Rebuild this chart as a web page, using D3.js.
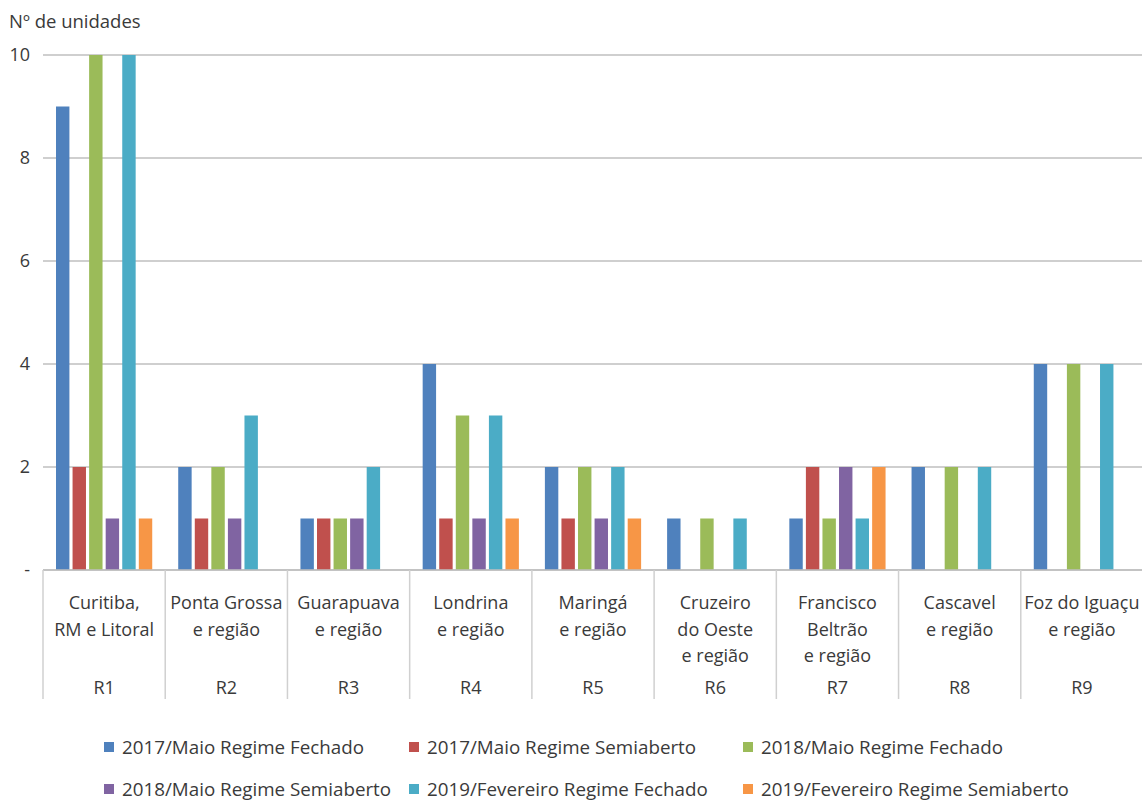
<!DOCTYPE html>
<html><head><meta charset="utf-8">
<script src="https://cdn.jsdelivr.net/npm/d3@7"></script>
<style>body{margin:0;background:#fff}svg{display:block}text{font-family:"Open Sans",sans-serif;fill:#3a3a3a}</style>
</head><body><svg id="c" width="1142" height="803"></svg>
<script>
const categories = [["Curitiba,","RM e Litoral"],["Ponta Grossa","e região"],["Guarapuava","e região"],["Londrina","e região"],["Maringá","e região"],["Cruzeiro","do Oeste","e região"],["Francisco","Beltrão","e região"],["Cascavel","e região"],["Foz do Iguaçu","e região"]];
const regions = ["R1","R2","R3","R4","R5","R6","R7","R8","R9"];
const series = ["2017/Maio Regime Fechado","2017/Maio Regime Semiaberto","2018/Maio Regime Fechado","2018/Maio Regime Semiaberto","2019/Fevereiro Regime Fechado","2019/Fevereiro Regime Semiaberto"];
const colors = ["#4f81bd","#c0504d","#9bbb59","#8064a2","#4bacc6","#f79646"];
const s2017F = [9,2,1,4,2,1,1,2,4];
const s2017S = [2,1,1,1,1,0,2,0,0];
const s2018F = [10,2,1,3,2,1,1,2,4];
const s2018S = [1,1,1,1,1,0,2,0,0];
const s2019F = [10,3,2,3,2,1,1,2,4];
const s2019S = [1,0,0,1,1,0,2,0,0];
const values = [s2017F,s2017S,s2018F,s2018S,s2019F,s2019S];
const yTicks = [0,2,4,6,8,10];
const yTickLabels = ["-","2","4","6","8","10"];

const svg = d3.select("#c");
const L = 43, R = 1143, T = 55, B = 570;
const x0 = d3.scaleBand().domain(regions).range([L, R]);
const bw = x0.bandwidth();
const x1 = d3.scaleBand().domain(series).range([13, bw - 13]).paddingInner(0.19);
const y = d3.scaleLinear().domain([0, 10]).range([B, T]);

// grid
svg.append("g").selectAll("line").data(yTicks).join("line")
  .attr("x1", L).attr("x2", R).attr("y1", d => y(d)).attr("y2", d => y(d))
  .attr("stroke", "#bfbfbf").attr("stroke-width", 1.5);

// y labels
svg.append("g").selectAll("text").data(yTicks).join("text")
  .attr("x", 30).attr("y", d => y(d)).attr("dy", "0.35em").attr("text-anchor", "end")
  .attr("font-size", 18).text((d, i) => yTickLabels[i]);

svg.append("text").attr("x", 9).attr("y", 28).attr("font-size", 18.5).text("Nº de unidades");

// bars
const g = svg.append("g").selectAll("g").data(regions).join("g")
  .attr("transform", d => `translate(${x0(d)},0)`);
g.selectAll("rect").data((d, i) => series.map((s, j) => ({s, j, v: values[j][i]})).filter(o => o.v > 0))
  .join("rect")
  .attr("x", o => x1(o.s)).attr("width", x1.bandwidth())
  .attr("y", o => y(o.v)).attr("height", o => B - y(o.v))
  .attr("fill", o => colors[o.j]);

// baseline
svg.append("line").attr("x1", L).attr("x2", R).attr("y1", B).attr("y2", B).attr("stroke", "#bfbfbf").attr("stroke-width", 1.5);

// separators
const seps = regions.map(r => x0(r)).concat([R]);
svg.append("g").selectAll("line").data(seps).join("line")
  .attr("x1", d => d).attr("x2", d => d).attr("y1", B).attr("y2", 699)
  .attr("stroke", "#d0d0d0").attr("stroke-width", 1.5);

// category labels
const lab = svg.append("g").selectAll("g").data(regions).join("g")
  .attr("transform", d => `translate(${x0(d) + bw / 2},0)`);
lab.selectAll("text.c").data((d, i) => categories[i]).join("text").attr("class", "c")
  .attr("x", 0).attr("y", (d, k) => 609 + k * 26.5).attr("text-anchor", "middle")
  .attr("font-size", 18).text(d => d);
lab.append("text").attr("x", 0).attr("y", 694).attr("text-anchor", "middle")
  .attr("font-size", 18).text(d => d);

// legend
const lx = [104, 409, 743];
const leg = svg.append("g").selectAll("g").data(series).join("g")
  .attr("transform", (d, i) => `translate(${lx[i % 3]},${i < 3 ? 747 : 789})`);
leg.append("rect").attr("x", 0).attr("y", -5).attr("width", 10).attr("height", 10).attr("fill", (d, i) => colors[i]);
leg.append("text").attr("x", 18).attr("y", 0).attr("dy", "0.35em").attr("font-size", 18.8).text(d => d);
</script></body></html>
